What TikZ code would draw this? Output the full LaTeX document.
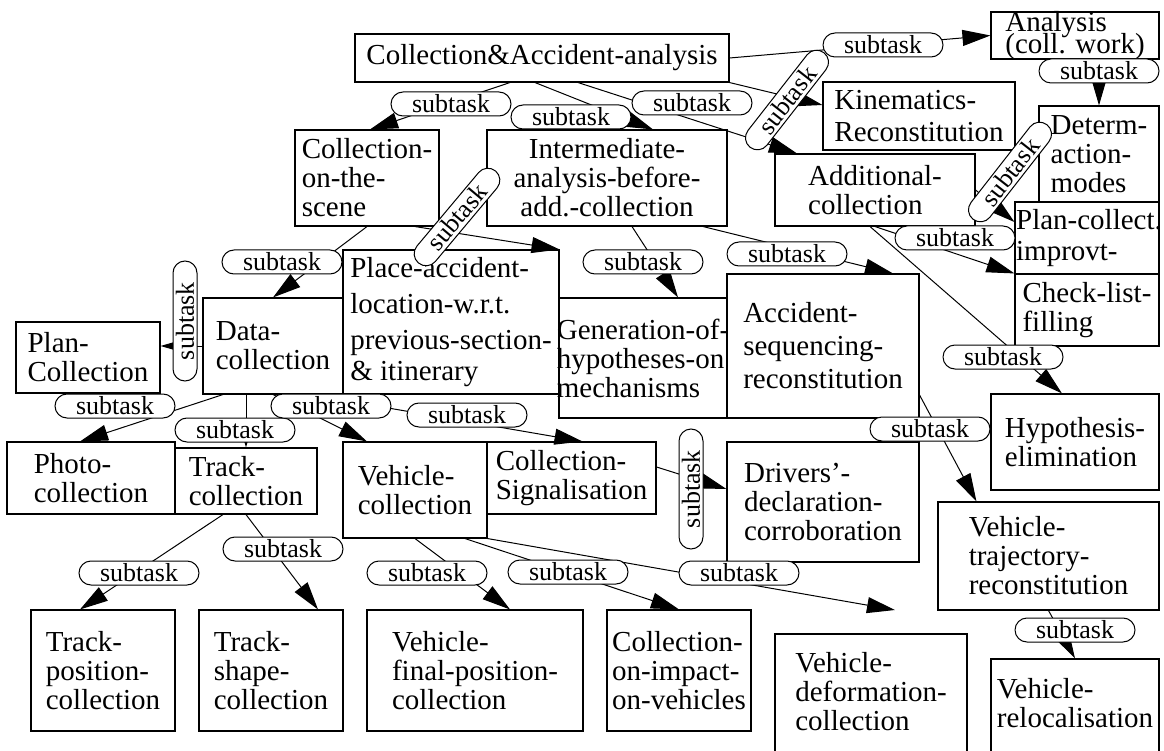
\documentclass[tikz,border=0pt]{standalone}
\usepackage{fontspec}
\setmainfont{Liberation Serif}
\usetikzlibrary{arrows.meta}
\newcommand{\taskfont}{\fontsize{29}{29}\selectfont}
\newcommand{\subfont}{\fontsize{26}{26}\selectfont}
\tikzstyle{task} = [rectangle, draw, fill=white, line width=1.1pt, align=left, inner sep=2pt, font=\taskfont]
\tikzstyle{sub} = [rectangle, draw, fill=white, line width=1pt, rounded corners=12pt, minimum width=120pt, minimum height=24pt, inner sep=0pt, font=\subfont]
\tikzset{edge/.style = {
    line width=1pt,
    -{Triangle[length=28pt,width=16pt]},
  }
}

\begin{document}
\begin{tikzpicture}[x=1pt,y=-1pt]
            \useasboundingbox (0,0) rectangle (1164,751);
            % vertices
            \node[task, minimum width=374, minimum height=48] (ca) at (542,58) {Collection\&Accident-analysis};
            \node[task, minimum width=168, minimum height=47, label={[align=left, font=\taskfont]center:Analysis\\[-7pt](coll. work)}] (ana) at (1075,35.5) {};
            \node[task, minimum width=192, minimum height=68] (kin) at (919,116) {Kinematics-\\[3pt]Reconstitution};
            \node[task, minimum width=120, minimum height=96] (det) at (1099,154) {Determ-\\action-\\modes};
            \node[task, minimum width=200, minimum height=72] (addc) at (875,190) {Additional-\\collection};
            \node[task, minimum width=144, minimum height=72, label={[align=left, font=\taskfont, xshift=2pt]center:Plan-collect.\\[2pt]improvt-}] (planc) at (1087,238) {};
            \node[task, minimum width=144, minimum height=72] (check) at (1087,310) {Check-list-\\filling};
            \node[task, minimum width=144, minimum height=96] (cots) at (367,178) {Collection-\\on-the-\\scene};
            \node[task, minimum width=240, minimum height=96, align=center] (inter) at (607,178) {Intermediate-\\analysis-before-\\add.-collection};
            \node[task, minimum width=216, minimum height=144] (place) at (451,322) {Place-accident-\\[7pt]location-w.r.t.\\[7pt]previous-section-\\[2pt]\& itinerary};
            \node[task, minimum width=140, minimum height=96] (datac) at (273,346) {Data-\\collection};
            \node[task, minimum width=144, minimum height=71] (planl) at (88,357.5) {Plan-\\Collection};
            \node[task, minimum width=168, minimum height=120, label={[align=left, font=\taskfont]center:Generation-of-\\hypotheses-on\\mechanisms}] (gen) at (643,358) {};
            \node[task, minimum width=192, minimum height=144] (seq) at (823,346) {Accident-\\[4pt]sequencing-\\[4pt]reconstitution};
            \node[task, minimum width=168, minimum height=96] (hyp) at (1075,442) {Hypothesis-\\elimination};
            \node[task, minimum width=168, minimum height=72] (photo) at (91,478) {Photo-\\collection};
            \node[task, minimum width=142, minimum height=66] (trackc) at (246,481) {Track-\\collection};
            \node[task, minimum width=144, minimum height=96] (vehc) at (415,490) {Vehicle-\\collection};
            \node[task, minimum width=169, minimum height=72] (sig) at (571.5,478) {Collection-\\Signalisation};
            \node[task, minimum width=192, minimum height=120] (drv) at (823,502) {Drivers'-\\declaration-\\corroboration};
            \node[task, minimum width=221, minimum height=108] (traj) at (1048.5,556) {Vehicle-\\trajectory-\\reconstitution};
            \node[task, minimum width=144, minimum height=121] (tpos) at (103,670.5) {Track-\\position-\\collection};
            \node[task, minimum width=144, minimum height=121] (tshape) at (271,670.5) {Track-\\shape-\\collection};
            \node[task, minimum width=216, minimum height=121] (vfin) at (475,670.5) {Vehicle-\\final-position-\\collection};
            \node[task, minimum width=144, minimum height=121] (imp) at (679,670.5) {Collection-\\on-impact-\\on-vehicles};
            \node[task, minimum width=192, minimum height=140, label={[align=left, font=\taskfont, yshift=12pt]center:Vehicle-\\deformation-\\collection}] (vdef) at (871,704) {};
            \node[task, minimum width=168, minimum height=120, label={[align=left, font=\taskfont, yshift=16pt]center:Vehicle-\\relocalisation}] (vrel) at (1075,719) {};
            \coordinate (vdefend) at (895,610);

            %edges
            \draw[edge] (ca.east) -- (ana.west);
            \draw[edge] (det.north |- ana.south) -- (det.north);
            \draw[edge] (ca.south east) -- ([yshift=11pt]kin.west);
            \draw[edge] ([xshift=-7pt]ca.south) -- ([xshift=46pt]inter.north);
            \draw[edge] ([xshift=-32pt]ca.south) -- ([xshift=3pt]cots.north);
            \draw[edge] ([xshift=36pt]ca.south) -- ([xshift=-78pt]addc.north);
            \draw[edge] ([xshift=48pt]cots.south) -- (place.north east);
            \draw[edge] (cots.south) -- (datac.north);
            \draw[edge] (datac.west) -- (datac.west -| planl.east);
            \draw[edge] ([xshift=25pt]inter.south) -- ([xshift=35pt]gen.north);
            \draw[edge] ([xshift=96pt]inter.south) -- ([xshift=70pt]seq.north);
            \draw[edge] (addc.south) -- (check.north west);
            \draw[edge] ([xshift=-5pt]addc.south) -- ([xshift=-13pt]hyp.north);
            \draw[edge] (addc.east) -- ([yshift=16pt]planc.west);
            \draw[edge] ([xshift=-50pt]datac.south) -- ([xshift=-11pt]photo.north);
            \draw[edge] (trackc.north |- datac.south) -- (trackc.north);
            \draw[edge] (datac.south) -- ([xshift=-48pt]vehc.north);
            \draw[edge] ([xshift=37pt]datac.south) -- ([xshift=11pt]sig.north);
            \draw[edge] (vehc.south) -- ([xshift=35pt]vfin.north);
            \draw[edge] ([xshift=50pt]vehc.south) -- (imp.north);
            \draw[edge] (vehc.south east) -- (vdefend);
            \draw[edge] ([yshift=11pt]sig.east) -- ([yshift=13pt]drv.west);
            \draw[edge] ([yshift=-49pt]seq.east) -- ([xshift=39pt]traj.north west);
            \draw[edge] (traj.south) -- (vrel.north);
            \draw[edge] ([xshift=-23pt]trackc.south) -- ([xshift=-23pt]tpos.north);
            \draw[edge] (trackc.south) -- ([xshift=47pt]tshape.north);

            % subtask labels
            \node[sub] (s1) at (883,45) {subtask};
            \node[sub] (s2) at (1099,71) {subtask};
            \node[sub, rotate=52] (s3) at (787,100) {subtask};
            \node[sub] (s4) at (571,117) {subtask};
            \node[sub] (s5) at (451,104) {subtask};
            \node[sub] (s6) at (692,103) {subtask};
            \node[sub, rotate=50] (s7) at (457,217) {subtask};
            \node[sub] (s8) at (282,262) {subtask};
            \node[sub, rotate=90] (s9) at (185,321) {subtask};
            \node[sub] (s10) at (643,262) {subtask};
            \node[sub] (s11) at (787,254) {subtask};
            \node[sub] (s12) at (955,238) {subtask};
            \node[sub] (s13) at (1003,357) {subtask};
            \node[sub, rotate=52] (s14) at (1010,172) {subtask};
            \node[sub] (s15) at (115,406) {subtask};
            \node[sub] (s16) at (235,430) {subtask};
            \node[sub] (s17) at (331,406) {subtask};
            \node[sub] (s18) at (467,415) {subtask};
            \node[sub] (s19) at (427,573) {subtask};
            \node[sub] (s20) at (568,572) {subtask};
            \node[sub] (s21) at (739,573) {subtask};
            \node[sub, rotate=90] (s22) at (691,489) {subtask};
            \node[sub] (s23) at (930,429) {subtask};
            \node[sub] (s24) at (1075,630) {subtask};
            \node[sub] (s25) at (139,573) {subtask};
            \node[sub] (s26) at (283,549) {subtask};
\end{tikzpicture}
\end{document}
